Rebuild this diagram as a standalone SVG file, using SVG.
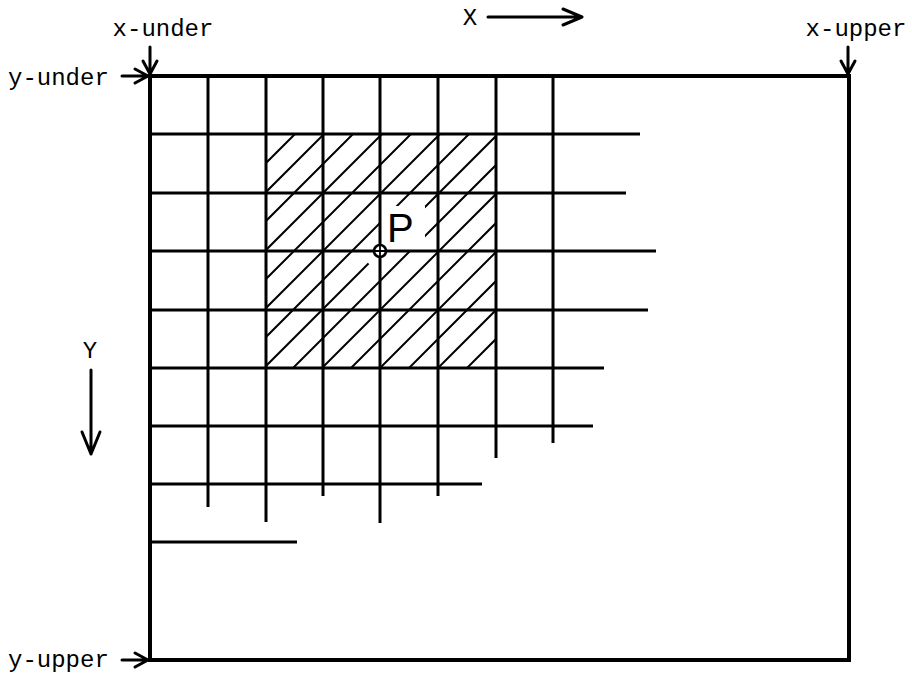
<svg xmlns="http://www.w3.org/2000/svg" width="912" height="673" viewBox="0 0 912 673">
<style>
.lbl{font-family:"Liberation Mono","Courier New",monospace;font-size:24px;fill:#000}
.grid{stroke:#000;stroke-width:3;fill:none;stroke-linecap:butt}
.frame{stroke:#000;stroke-width:4;fill:none;stroke-linejoin:miter}
.hatch{stroke:#000;stroke-width:2;fill:none}
.arr{stroke:#000;stroke-width:3;fill:none;stroke-linecap:round;stroke-linejoin:round}
</style>
<defs>
<clipPath id="hclip"><rect x="266" y="134" width="230" height="234"/></clipPath>
<mask id="hmask" maskUnits="userSpaceOnUse" x="0" y="0" width="912" height="673">
<rect x="0" y="0" width="912" height="673" fill="#fff"/>
<rect x="379" y="206" width="46" height="45" fill="#000"/>
<circle cx="380" cy="251" r="17" fill="#000"/>
</mask>
</defs>
<rect width="912" height="673" fill="#fff"/>
<g id="hatch" clip-path="url(#hclip)" mask="url(#hmask)">
<path class="hatch" d="M266,163L295,134 M266,192L324,134 M266,221L353,134 M266,250L382,134 M266,279L411,134 M266,308L440,134 M266,337L469,134 M266,366L498,134 M266,395L527,134 M266,424L556,134 M266,453L585,134 M266,482L614,134 M266,511L643,134 M266,540L672,134 M266,569L701,134"/>
</g>
<g id="grid">
<path class="grid" d="M208,76V507 M266,76V522 M323,76V496 M380,76V523 M438,76V496 M496,76V458 M553,76V443"/>
<path class="grid" d="M150,134H640 M150,193H626 M150,251H656 M150,310H648 M150,368H604 M150,426H593 M150,484H482 M150,542H297"/>
</g>
<g id="frame"><rect class="frame" x="150" y="76" width="699" height="584"/></g>
<g id="point-P">
<circle cx="380" cy="251" r="6" fill="#fff" stroke="#000" stroke-width="2.6"/>
<path d="M374,251H386 M380,245V257" stroke="#000" stroke-width="1.8"/>
<text x="387" y="242" font-family="Liberation Sans, Arial, sans-serif" font-size="40" fill="#000">P</text>
</g>
<g id="connectors">
<path class="arr" d="M150,47V74 M143,61L150,74L157,61"/>
<path class="arr" d="M122,76H148 M135,69L148,76L135,83"/>
<path class="arr" d="M848,47V74 M841,61L848,74L855,61"/>
<path class="arr" d="M122,660H148 M135,653L148,660L135,667"/>
<path class="arr" d="M488,17H582 M563,9L582,17L563,25"/>
<path class="arr" d="M91,370V454 M82,432L91,454L100,432"/>
</g>
<g id="labels">
<text class="lbl" x="163" y="36" text-anchor="middle">x-under</text>
<text class="lbl" x="8" y="85">y-under</text>
<text class="lbl" x="470" y="25" text-anchor="middle">X</text>
<text class="lbl" x="856" y="36" text-anchor="middle">x-upper</text>
<text class="lbl" x="90" y="358" text-anchor="middle">Y</text>
<text class="lbl" x="8" y="667">y-upper</text>
</g>
</svg>
